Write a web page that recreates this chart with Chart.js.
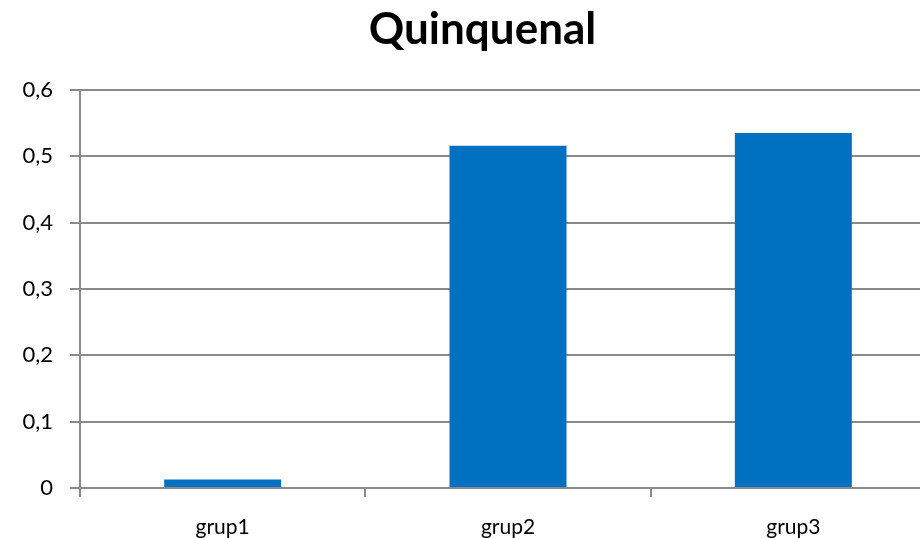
<!DOCTYPE html>
<html>
<head>
<meta charset="utf-8">
<script src="https://cdn.jsdelivr.net/npm/chart.js@4"></script>
<style>
html,body{margin:0;padding:0;background:#fff;overflow:hidden;}
#wrap{width:965px;height:538px;}
</style>
</head>
<body>
<div id="wrap"><canvas id="c" width="965" height="538"></canvas></div>
<script>
const categories = ['grup1', 'grup2', 'grup3'];
const values = [0.013, 0.516, 0.535];
const yTicks = [0, 0.1, 0.2, 0.3, 0.4, 0.5, 0.6];
const titleText = 'Quinquenal';

const gridColor = '#8a8a8a';
new Chart(document.getElementById('c'), {
  type: 'bar',
  data: {
    labels: categories,
    datasets: [{
      data: values,
      backgroundColor: '#0070C0',
      borderWidth: 0,
      categoryPercentage: 1,
      barPercentage: 0.41,
      yAxisID: 'y'
    }]
  },
  options: {
    responsive: false,
    animation: false,
    layout: { padding: 0 },
    plugins: {
      legend: { display: false },
      tooltip: { enabled: false },
      title: {
        display: true,
        text: titleText,
        color: '#000',
        font: { family: 'Lato', size: 44, weight: 'bold' },
        padding: { top: 3, bottom: 34.2 }
      }
    },
    scales: {
      x: {
        grid: { drawOnChartArea: false, drawTicks: true, tickLength: 9, color: gridColor, lineWidth: 2 },
        border: { display: true, color: gridColor, width: 2 },
        ticks: { color: '#000', font: { family: 'Lato', size: 21 }, padding: 18 },
        afterFit: (s) => { s.height = 50; }
      },
      y: {
        min: 0, max: 0.6,
        afterBuildTicks: (s) => { s.ticks = yTicks.map(v => ({ value: v })); },
        grid: { color: gridColor, lineWidth: 2, tickLength: 10 },
        border: { display: true, color: gridColor, width: 2 },
        ticks: {
          color: '#000',
          font: { family: 'Lato', size: 22 },
          padding: 17,
          callback: (v) => v === 0 ? '0' : Number(v).toFixed(1).replace('.', ',')
        },
        afterFit: (s) => { s.width = 80; }
      },
      spacer: {
        type: 'linear',
        position: 'right',
        display: true,
        grid: { display: false, drawTicks: false },
        border: { display: false },
        ticks: { display: false },
        afterFit: (s) => { s.width = 29; }
      }
    }
  }
});
</script>
</body>
</html>
